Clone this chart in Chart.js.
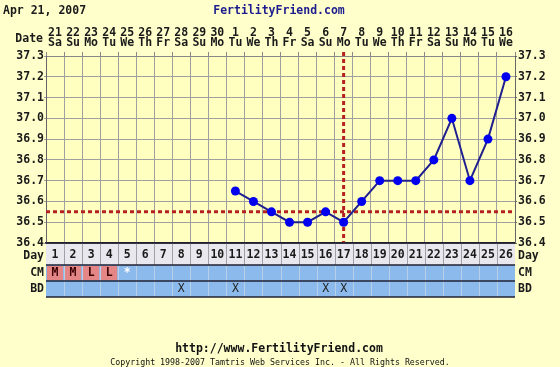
<!DOCTYPE html>
<html>
<head>
<meta charset="utf-8">
<script src="https://cdn.jsdelivr.net/npm/chart.js@4.4.1/dist/chart.umd.min.js"></script>
<style>
body { margin: 0; background: #ffffcc; }
canvas { display: block; }
</style>
</head>
<body>
<canvas id="bbtChart" width="560" height="367"></canvas>
<script>
// chart data
var cycleDays = ['1','2','3','4','5','6','7','8','9','10','11','12','13','14','15','16','17','18','19','20','21','22','23','24','25','26'];
var dateNums = ['21','22','23','24','25','26','27','28','29','30','1','2','3','4','5','6','7','8','9','10','11','12','13','14','15','16'];
var weekDays = ['Sa','Su','Mo','Tu','We','Th','Fr','Sa','Su','Mo','Tu','We','Th','Fr','Sa','Su','Mo','Tu','We','Th','Fr','Sa','Su','Mo','Tu','We'];
var temps = [null,null,null,null,null,null,null,null,null,null,36.65,36.6,36.55,36.5,36.5,36.55,36.5,36.6,36.7,36.7,36.7,36.8,37.0,36.7,36.9,37.2];
var cmCodes = ['M','M','L','L','*','','','','','','','','','','','','','','','','','','','','',''];
var bdMarks = ['','','','','','','','X','','','X','','','','','X','X','','','','','','','','',''];
var coverline = 36.55;
var ovulationDay = '17';
var tempMin = 36.4;
var tempMax = 37.3;

var monoFont = "'DejaVu Sans Mono', monospace";
var textColor = '#1a1a1a';
var rowBlue = '#8dbaec';
var gridGray = '#a0a0a0';

var dateLabels = dateNums.map(function(d, i) { return [d, weekDays[i]]; });

function boldFont(size) {
    return 'bold ' + size + 'px ' + monoFont;
}

var ffPlugin = {
    id: 'ffTable',
    beforeDraw: function(chart) {
        var c = chart.ctx, a = chart.chartArea, x = chart.scales.x;
        var step = x.getPixelForValue(1) - x.getPixelForValue(0);
        var w = a.right - a.left;
        c.save();
        c.fillStyle = '#ffffcc';
        c.fillRect(0, 0, chart.width, chart.height);
        c.fillStyle = '#ffffc0';
        c.fillRect(a.left, a.top, w, a.bottom - a.top);
        // day row
        c.fillStyle = '#e8e8ee';
        c.fillRect(a.left, a.bottom, w, 22);
        // CM + BD rows
        c.fillStyle = rowBlue;
        c.fillRect(a.left, a.bottom + 22, w, 32);
        cmCodes.forEach(function(code, i) {
            if (code === 'M' || code === 'L') {
                c.fillStyle = '#e58686';
                c.fillRect(x.getPixelForValue(i) - step / 2 + 1, a.bottom + 23, step - 2, 14);
            }
        });
        c.restore();
    },
    beforeDatasetsDraw: function(chart) {
        var c = chart.ctx, a = chart.chartArea;
        var yc = chart.scales.y.getPixelForValue(coverline);
        var xo = chart.scales.x.getPixelForValue(cycleDays.indexOf(ovulationDay));
        c.save();
        c.strokeStyle = '#b52020';
        c.lineWidth = 3;
        c.setLineDash([4, 3]);
        c.beginPath();
        c.moveTo(a.left, yc);
        c.lineTo(a.right, yc);
        c.moveTo(xo, a.top - 4);
        c.lineTo(xo, a.bottom);
        c.stroke();
        c.restore();
    },
    afterDraw: function(chart) {
        var c = chart.ctx, a = chart.chartArea, x = chart.scales.x;
        var step = x.getPixelForValue(1) - x.getPixelForValue(0);
        var r1 = a.bottom + 22, r2 = r1 + 16, r3 = r2 + 16;
        c.save();
        // cell separators
        c.lineWidth = 1;
        for (var i = 1; i < cycleDays.length; i++) {
            var px = Math.round(x.getPixelForValue(i) - step / 2) + 0.5;
            c.strokeStyle = '#a0a0a8';
            c.beginPath();
            c.moveTo(px, a.bottom);
            c.lineTo(px, r1);
            c.stroke();
            c.strokeStyle = '#b8cfe8';
            c.beginPath();
            c.moveTo(px, r1);
            c.lineTo(px, r3);
            c.stroke();
        }
        // row lines
        c.strokeStyle = '#222233';
        c.lineWidth = 1.5;
        [a.bottom, r1, r2, r3].forEach(function(yy) {
            c.beginPath();
            c.moveTo(a.left, yy);
            c.lineTo(a.right, yy);
            c.stroke();
        });
        // CM and BD texts
        c.font = boldFont(11.5);
        c.textAlign = 'center';
        c.textBaseline = 'middle';
        cmCodes.forEach(function(code, i) {
            if (code) {
                c.fillStyle = code === '*' ? '#ffffff' : '#3a0000';
                c.fillText(code, x.getPixelForValue(i), r1 + 8.5);
            }
        });
        c.font = 11.5 + 'px ' + monoFont;
        c.fillStyle = '#222';
        bdMarks.forEach(function(m, i) {
            if (m) c.fillText(m, x.getPixelForValue(i), r2 + 8.5);
        });
        // row labels
        c.font = boldFont(11.5);
        c.fillStyle = textColor;
        c.textAlign = 'right';
        c.fillText('Date', 43, 39.5);
        c.fillText('Day', 44, a.bottom + 13);
        c.fillText('CM', 44, r1 + 8.5);
        c.fillText('BD', 44, r2 + 8.5);
        c.textAlign = 'left';
        c.fillText('Day', a.right + 3, a.bottom + 13);
        c.fillText('CM', a.right + 3, r1 + 8.5);
        c.fillText('BD', a.right + 3, r2 + 8.5);
        // header and footer
        c.fillText('Apr 21, 2007', 3, 11);
        c.textAlign = 'center';
        c.fillStyle = '#1c1c8e';
        c.fillText('FertilityFriend.com', 279, 11);
        c.fillStyle = '#111';
        c.fillText('http://www.FertilityFriend.com', 279, 349);
        c.font = 8.3 + 'px ' + monoFont;
        c.fillText('Copyright 1998-2007 Tamtris Web Services Inc. - All Rights Reserved.', 280, 362.5);
        c.restore();
    }
};

var bbtChart = new Chart(document.getElementById('bbtChart').getContext('2d'), {
    type: 'line',
    data: {
        labels: cycleDays,
        datasets: [{
            data: temps,
            borderColor: '#1f1f8f',
            borderWidth: 2,
            backgroundColor: '#0000ee',
            pointBackgroundColor: '#0000ee',
            pointBorderWidth: 0,
            pointRadius: 4.5,
            tension: 0,
            spanGaps: false,
            clip: false
        }]
    },
    options: {
        responsive: false,
        animation: false,
        devicePixelRatio: 1,
        layout: { padding: 0 },
        plugins: {
            legend: { display: false },
            tooltip: { enabled: false }
        },
        scales: {
            x: {
                type: 'category',
                position: 'bottom',
                offset: true,
                grid: { color: gridGray, offset: true, drawTicks: false },
                border: { color: '#222233', width: 1.5 },
                ticks: {
                    autoSkip: false, maxRotation: 0, padding: 6.5,
                    color: textColor,
                    font: { family: monoFont, size: 11.5, weight: 'bold', lineHeight: 1 }
                },
                afterFit: function(s) { s.height = 124; }
            },
            x2: {
                type: 'category',
                position: 'top',
                labels: dateLabels,
                offset: true,
                grid: { offset: true, drawOnChartArea: false, tickLength: 4, color: '#888' },
                border: { color: '#888' },
                ticks: {
                    autoSkip: false, maxRotation: 0, padding: 4.5,
                    color: textColor,
                    font: { family: monoFont, size: 11.5, weight: 'bold', lineHeight: 0.86 }
                },
                afterFit: function(s) { s.height = 56; }
            },
            y: {
                position: 'left',
                min: tempMin,
                max: tempMax,
                grid: { color: gridGray, tickLength: 2 },
                border: { color: '#666' },
                ticks: {
                    stepSize: 0.1, padding: 0,
                    color: textColor,
                    font: { family: monoFont, size: 11.5, weight: 'bold' },
                    callback: function(v) { return v.toFixed(1); }
                },
                afterFit: function(s) { s.width = 46; }
            },
            y2: {
                position: 'right',
                min: tempMin,
                max: tempMax,
                grid: { drawOnChartArea: false, tickLength: 2, color: '#666' },
                border: { color: '#666' },
                ticks: {
                    stepSize: 0.1, padding: 1,
                    color: textColor,
                    font: { family: monoFont, size: 11.5, weight: 'bold' },
                    callback: function(v) { return v.toFixed(1); }
                },
                afterFit: function(s) { s.width = 45; }
            }
        }
    },
    plugins: [ffPlugin]
});
</script>
</body>
</html>
